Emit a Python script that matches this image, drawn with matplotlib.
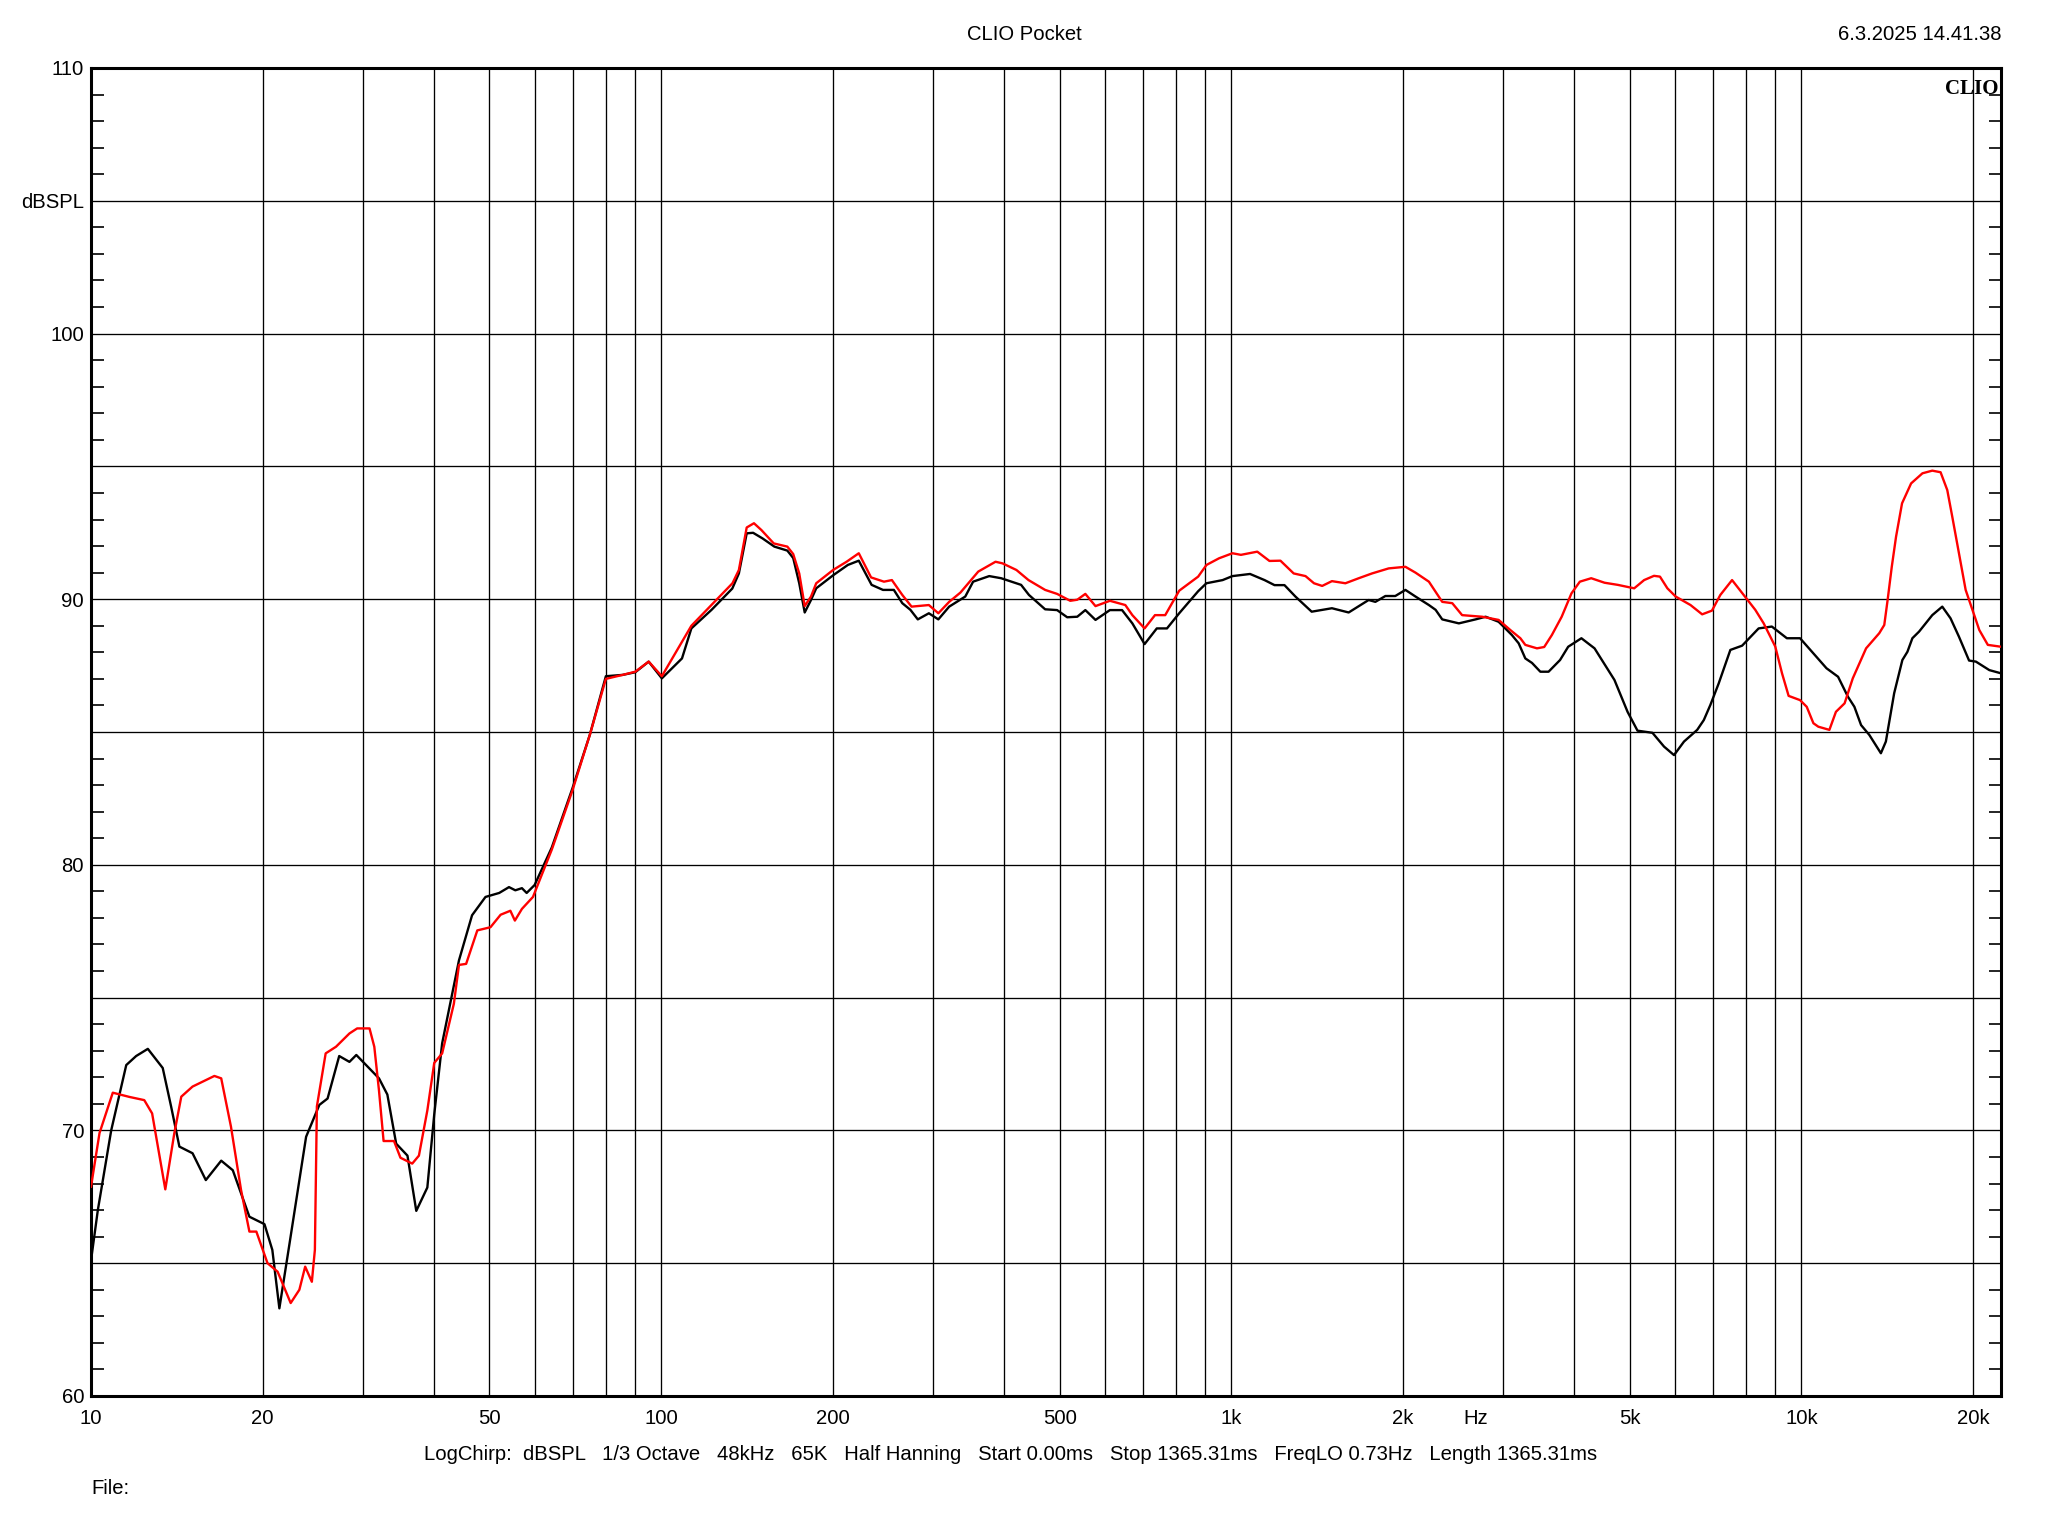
import matplotlib
matplotlib.use("Agg")
import matplotlib.pyplot as plt
from matplotlib.ticker import FixedLocator, NullFormatter

# ---------------- data ----------------
black_freq = [10, 10.28, 10.85, 11.53, 12.0, 12.58, 13.36, 13.82, 14.29, 15.07, 15.9, 16.92, 17.73,
              18.96, 20.15, 20.8, 21.4, 22.3, 23.84, 25.15, 26.0, 27.25, 28.4, 29.2, 32.0, 33.1,
              34.3, 35.9, 37.2, 38.9, 40.0, 41.3, 44.2, 46.6, 49.2, 52.0, 54.1, 55.5, 57.0, 58.1,
              60.0, 64.3, 69.9, 75.0, 80.0, 85.6, 90.1, 95.1, 100.3, 108.8, 113.0, 122.6, 133.3,
              136.9, 141.3, 145.0, 150.6, 158.0, 166.5, 170.5, 174.7, 178.6, 183, 187.1, 200.3,
              212.6, 222.2, 234, 245, 256, 264.9, 273.7, 282, 294.9, 306.4, 320.1, 341.6, 352.6,
              376.3, 394.8, 428, 441.8, 471.6, 495, 515.6, 537, 554.8, 578, 612.6, 643.5, 670.8,
              704.8, 740.4, 771.5, 810.5, 875, 904.6, 966, 1005, 1079, 1144, 1191, 1240, 1296,
              1384, 1502, 1607, 1674, 1742, 1790, 1864, 1940, 2021, 2105, 2222, 2283, 2345, 2508,
              2683, 2794, 2945, 3107, 3193, 3280, 3370, 3485, 3603, 3774, 3900, 4114, 4338, 4701,
              4957, 5160, 5481, 5744, 5980, 6226, 6567, 6745, 6926, 7163, 7508, 7873, 8416, 8878,
              9433, 9949, 10500, 11070, 11600, 12070, 12390, 12730, 13160, 13790, 14070, 14550,
              15040, 15350, 15660, 16090, 16970, 17670, 18270, 18900, 19690, 20240, 21370, 22400]
black_db = [65.1, 67.0, 70.0, 72.46, 72.8, 73.07, 72.35, 70.9, 69.39, 69.14, 68.13, 68.86, 68.5,
            66.75, 66.47, 65.5, 63.3, 65.75, 69.76, 70.96, 71.2, 72.8, 72.58, 72.84, 71.96, 71.35,
            69.5, 69.05, 66.97, 67.85, 70.6, 73.28, 76.4, 78.1, 78.79, 78.94, 79.16, 79.04, 79.12, 78.94,
            79.24, 80.65, 82.88, 84.9, 87.1, 87.15, 87.25, 87.65, 87.02, 87.77, 88.9, 89.6, 90.4,
            90.97, 92.48, 92.5, 92.29, 91.98, 91.83, 91.55, 90.6, 89.5, 89.95, 90.41, 90.9,
            91.29, 91.45, 90.54, 90.35, 90.35, 89.85, 89.6, 89.24, 89.47, 89.24, 89.72, 90.1, 90.66,
            90.87, 90.79, 90.54, 90.16, 89.62, 89.59, 89.32, 89.34, 89.59, 89.22, 89.59, 89.59, 89.09,
            88.31, 88.9, 88.9, 89.47, 90.3, 90.6, 90.72, 90.87, 90.95, 90.72, 90.53, 90.53, 90.1,
            89.53, 89.66, 89.5, 89.74, 89.97, 89.9, 90.12, 90.12, 90.35, 90.1, 89.78, 89.6, 89.24, 89.09,
            89.24, 89.34, 89.15, 88.65, 88.34, 87.77, 87.6, 87.27, 87.27, 87.71, 88.21, 88.53, 88.15, 86.96,
            85.76, 85.05, 84.97, 84.45, 84.13, 84.64, 85.08, 85.45, 86.02, 86.83, 88.09, 88.25, 88.9, 88.97,
            88.53, 88.53, 87.96, 87.4, 87.08, 86.33, 85.95, 85.26, 84.89, 84.2, 84.64, 86.46,
            87.71, 88.02, 88.53, 88.78, 89.4, 89.72, 89.28, 88.59, 87.69, 87.65, 87.33, 87.21]

red_freq = [10, 10.35, 10.92, 11.68, 12.4, 12.8, 13.5, 14.0, 14.4, 15.07, 16.46, 16.92, 17.6, 18.33,
            18.96, 19.5, 20.4, 21.25, 22.4, 23.2, 23.75, 24.4, 24.7, 24.9, 25.8, 26.9, 28.4, 29.3,
            30.8, 31.4, 32.0, 32.6, 34.0, 34.9, 36.6, 37.6, 38.9, 40.0, 41.3, 43.3, 44.2, 45.5, 47.6,
            50.2, 52.3, 54.4, 55.4, 57.0, 59.6, 64.3, 69.9, 75.0, 80.0, 85.6, 90.1, 95.1, 100.3, 113,
            133.4, 136.9, 141.3, 145.5, 150, 157.6, 166.5, 170.5, 174.7, 178.6, 183.2, 187.1, 200.3,
            211.5, 222.2, 233.5, 246, 254, 264.9, 275, 294.9, 306.4, 320.1, 335, 360, 386, 397, 420,
            441, 471.6, 495, 522, 537, 554.8, 578, 612.6, 652, 670.8, 704.8, 735, 766, 810.5, 875,
            905, 952, 1005, 1040, 1111, 1167, 1220, 1287, 1350, 1397, 1444, 1502, 1586, 1674, 1766,
            1889, 2021, 2105, 2222, 2345, 2442, 2541, 2755, 2945, 3087, 3215, 3280, 3438, 3540, 3651,
            3799, 3952, 4088, 4280, 4517, 4764, 5092, 5300, 5516, 5650, 5822, 6020, 6392, 6700, 6970,
            7210, 7560, 7925, 8303, 8590, 9000, 9250, 9500, 9949, 10220, 10500, 10710, 11200, 11500,
            11910, 12310, 12990, 13700, 13980, 14170, 14410, 14660, 15020, 15580, 16310, 16970,
            17550, 18030, 18400, 18900, 19420, 20100, 20520, 21240, 22400]
red_db = [67.88, 69.9, 71.42, 71.26, 71.14, 70.64, 67.78, 69.89, 71.27, 71.65, 72.05, 71.96, 70.14, 67.76,
          66.19, 66.19, 65.0, 64.68, 63.5, 64.0, 64.87, 64.3, 65.5, 70.9, 72.9, 73.15, 73.65, 73.84,
          73.84, 73.15, 71.5, 69.6, 69.6, 68.97, 68.75, 69.05, 70.75, 72.54, 72.9, 74.77, 76.23, 76.27, 77.53,
          77.65, 78.12, 78.27, 77.9, 78.34, 78.79, 80.57, 82.8, 84.9, 87.0, 87.15, 87.27, 87.65, 87.1, 89.0,
          90.6, 91.1, 92.7, 92.86, 92.6, 92.1, 91.98, 91.7, 90.97, 89.74, 90.1, 90.6, 91.1,
          91.41, 91.73, 90.82, 90.66, 90.72, 90.16, 89.72, 89.78, 89.47, 89.9, 90.25, 91.04, 91.41, 91.35, 91.1,
          90.72, 90.35, 90.2, 89.94, 89.98, 90.2, 89.74, 89.94, 89.78, 89.4, 88.9, 89.4, 89.4, 90.32, 90.85,
          91.29, 91.54, 91.73, 91.67, 91.79, 91.44, 91.45, 90.97, 90.87, 90.6, 90.5, 90.68, 90.6, 90.79, 90.97,
          91.16, 91.22, 91.0, 90.66, 89.9, 89.85, 89.4, 89.34, 89.22, 88.84, 88.53, 88.28, 88.15, 88.2, 88.65,
          89.34, 90.22, 90.66, 90.79, 90.62, 90.54, 90.41, 90.72, 90.88, 90.85, 90.41, 90.1, 89.78, 89.43, 89.57,
          90.16, 90.72, 90.16, 89.6, 89.09, 88.22, 87.21, 86.36, 86.2, 85.95, 85.33, 85.2, 85.08, 85.76,
          86.08, 87.02, 88.15, 88.72, 89.03, 89.97, 91.22, 92.35, 93.61, 94.36, 94.74, 94.84,
          94.78, 94.11, 93.1, 91.73, 90.35, 89.41, 88.84, 88.28, 88.21]

x_ticks = [10, 20, 50, 100, 200, 500, 1000, 2000, 2680, 5000, 10000, 20000]
x_labels = ["10", "20", "50", "100", "200", "500", "1k", "2k", "Hz", "5k", "10k", "20k"]
y_ticks = [60, 65, 70, 75, 80, 85, 90, 95, 100, 105, 110]
y_labels = ["60", "", "70", "", "80", "", "90", "", "100", "dBSPL", "110"]
grid_freqs = ([20, 30, 40, 50, 60, 70, 80, 90, 100] + [200, 300, 400, 500, 600, 700, 800, 900, 1000]
              + [2000, 3000, 4000, 5000, 6000, 7000, 8000, 9000, 10000, 20000])

title = "CLIO Pocket"
stamp = "6.3.2025 14.41.38"
info = ("LogChirp:  dBSPL   1/3 Octave   48kHz   65K   Half Hanning   Start 0.00ms   "
        "Stop 1365.31ms   FreqLO 0.73Hz   Length 1365.31ms")

# ---------------- figure ----------------
plt.rcParams['font.family'] = ['Liberation Sans', 'DejaVu Sans']
W, H = 2048, 1536
FS = 14.6
fig = plt.figure(figsize=(W / 100, H / 100), dpi=100)
left, right, top, bottom = 91, 2001, 68, 1396
ax = fig.add_axes([left / W, 1 - bottom / H, (right - left) / W, (bottom - top) / H])

ax.set_xscale('log')
ax.set_xlim(10, 22400)
ax.set_ylim(60, 110)

for f in grid_freqs:
    ax.axvline(f, color='black', lw=0.95, zorder=1)
for yv in y_ticks:
    ax.axhline(yv, color='black', lw=0.95, zorder=1)

ax.plot(black_freq, black_db, color='black', lw=1.7, zorder=3)
ax.plot(red_freq, red_db, color='#ff0000', lw=1.7, zorder=4)

ax.xaxis.set_major_locator(FixedLocator(x_ticks))
ax.set_xticklabels(x_labels)
ax.xaxis.set_minor_locator(FixedLocator([]))
ax.xaxis.set_minor_formatter(NullFormatter())
ax.tick_params(axis='x', which='major', length=0, labelsize=FS, pad=9)

ax.yaxis.set_major_locator(FixedLocator(y_ticks))
ax.set_yticklabels(y_labels)
minor_y = [v for v in range(60, 111) if v % 5 != 0]
ax.yaxis.set_minor_locator(FixedLocator(minor_y))
ax.tick_params(axis='y', which='major', length=0, labelsize=FS, pad=5)
ax.tick_params(axis='y', which='minor', direction='in', length=9, width=1.2,
               left=True, right=True)

for s in ax.spines.values():
    s.set_linewidth(2.2)
    s.set_color('black')

fig.text(1024 / W, 1 - 34 / H, title, ha='center', va='center', fontsize=FS)
fig.text(right / W, 1 - 34 / H, stamp, ha='right', va='center', fontsize=FS)
fig.text(1011 / W, 1 - 1455 / H, info, ha='center', va='center', fontsize=FS)
fig.text(91 / W, 1 - 1489 / H, "File:", ha='left', va='center', fontsize=FS)
ax.text(0.9985, 0.992, "CLIO", transform=ax.transAxes, ha='right', va='top',
        fontsize=15, fontweight='bold', family=['Liberation Serif', 'DejaVu Serif'], zorder=5)

fig.savefig("out.png", dpi=100, facecolor='white')
